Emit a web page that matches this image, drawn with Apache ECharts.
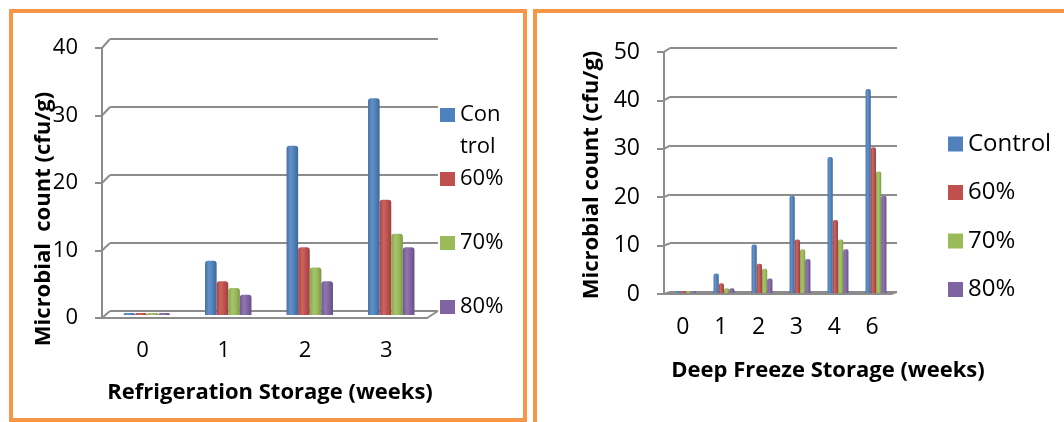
<!DOCTYPE html>
<html>
<head>
<meta charset="utf-8">
<script src="https://cdn.jsdelivr.net/npm/echarts@6/dist/echarts.min.js"></script>
<style>
html,body{margin:0;padding:0;background:#fff;}
#main{width:1064px;height:422px;}
</style>
</head>
<body>
<div id="main"></div>
<script>
// ---------- data ----------
const seriesNames = ['Control', '60%', '70%', '80%'];

const categories1 = ['0', '1', '2', '3'];
const control1 = [0, 8, 25, 32];
const pct60_1 = [0, 5, 10, 17];
const pct70_1 = [0, 4, 7, 12];
const pct80_1 = [0, 3, 5, 10];
const yMax1 = 40;

const categories2 = ['0', '1', '2', '3', '4', '6'];
const control2 = [0, 4, 10, 20, 28, 42];
const pct60_2 = [0, 2, 6, 11, 15, 30];
const pct70_2 = [0, 1, 5, 9, 11, 25];
const pct80_2 = [0, 1, 3, 7, 9, 20];
const yMax2 = 50;

const yStep = 10;

const yTitle1 = 'Microbial  count (cfu/g)';
const yTitle2 = 'Microbial count (cfu/g)';
const xTitle1 = 'Refrigeration Storage (weeks)';
const xTitle2 = 'Deep Freeze Storage (weeks)';

// ---------- styling ----------
const colors = ['#4F81BD', '#C0504D', '#9BBB59', '#8064A2'];
const gridGray = '#8c8c8c';
const FONT = '"Open Sans", "DejaVu Sans", sans-serif';

function shade(hex, f) {
  const n = parseInt(hex.slice(1), 16);
  let r = (n >> 16) & 255, g = (n >> 8) & 255, b = n & 255;
  const t = f < 0 ? 0 : 255, p = Math.abs(f);
  r = Math.round((t - r) * p + r); g = Math.round((t - g) * p + g); b = Math.round((t - b) * p + b);
  return 'rgb(' + r + ',' + g + ',' + b + ')';
}
function cyl(hex) {
  return new echarts.graphic.LinearGradient(0, 0, 1, 0, [
    { offset: 0, color: shade(hex, -0.12) },
    { offset: 0.35, color: shade(hex, 0.12) },
    { offset: 0.65, color: hex },
    { offset: 1, color: shade(hex, -0.2) }
  ]);
}

// layout (positions only)
const L = {
  c1front: { left: 102, top: 48, width: 325, height: 270 },
  c1back: { left: 110, top: 39, width: 328, height: 272 },
  c1bars: { left: 106, top: 44, width: 326, height: 271 },
  c2front: { left: 664, top: 52, width: 227, height: 242 },
  c2back: { left: 670, top: 48, width: 227, height: 244 },
  c2bars: { left: 667, top: 50, width: 228, height: 243 }
};

const chart = echarts.init(document.getElementById('main'), null, { renderer: 'canvas' });

function frontX(cats, fs, margin, gi) {
  return {
    type: 'category', data: cats, gridIndex: gi,
    axisLine: { show: true, lineStyle: { color: gridGray, width: 2 } },
    axisTick: { show: false },
    axisLabel: { fontSize: fs, color: '#000', margin: margin, fontFamily: FONT },
    splitLine: { show: false }
  };
}
function hiddenX(cats, gi) {
  return { type: 'category', data: cats, gridIndex: gi, show: false };
}
function frontY(max, fs, gi) {
  return {
    type: 'value', min: 0, max: max, interval: yStep, gridIndex: gi,
    axisLine: { show: true, lineStyle: { color: gridGray, width: 2 } },
    axisTick: { show: true, length: 7, lineStyle: { color: gridGray, width: 2 } },
    axisLabel: { fontSize: fs, color: '#000', margin: 24, fontFamily: FONT },
    splitLine: { show: false }
  };
}
function backY(max, gi) {
  return {
    type: 'value', min: 0, max: max, interval: yStep, gridIndex: gi,
    axisLine: { show: false }, axisTick: { show: false }, axisLabel: { show: false },
    splitLine: { show: true, lineStyle: { color: gridGray, width: 2 } }
  };
}
function hiddenY(max, gi) {
  return { type: 'value', min: 0, max: max, gridIndex: gi, show: false, splitLine: { show: false } };
}

const data1 = [control1, pct60_1, pct70_1, pct80_1];
const data2 = [control2, pct60_2, pct70_2, pct80_2];

const series = [];
seriesNames.forEach((nm, i) => {
  series.push({
    type: 'bar', name: nm, data: data1[i], xAxisIndex: 2, yAxisIndex: 2,
    barGap: '0%', barCategoryGap: '43%', barMinHeight: 2,
    itemStyle: { color: cyl(colors[i]), borderRadius: [3, 3, 0, 0] },
    emphasis: { disabled: true }
  });
});
seriesNames.forEach((nm, i) => {
  series.push({
    type: 'bar', name: nm, data: data2[i], xAxisIndex: 5, yAxisIndex: 5,
    barGap: '0%', barCategoryGap: '45%', barMinHeight: 2,
    itemStyle: { color: cyl(colors[i]), borderRadius: [2, 2, 0, 0] },
    emphasis: { disabled: true }
  });
});

const legendData = seriesNames.map((n, i) => ({ name: n, itemStyle: { color: colors[i] } }));

chart.setOption({
  animation: false,
  color: colors,
  textStyle: { fontFamily: FONT },
  grid: [L.c1front, L.c1back, L.c1bars, L.c2front, L.c2back, L.c2bars],
  xAxis: [frontX(categories1, 22, 22, 0), hiddenX(categories1, 1), hiddenX(categories1, 2),
          frontX(categories2, 23, 22, 3), hiddenX(categories2, 4), hiddenX(categories2, 5)],
  yAxis: [frontY(yMax1, 22, 0), backY(yMax1, 1), hiddenY(yMax1, 2), frontY(yMax2, 23, 3), backY(yMax2, 4), hiddenY(yMax2, 5)],
  legend: [
    {
      orient: 'vertical', left: 440, top: 104, padding: 0,
      itemWidth: 15, itemHeight: 14, itemGap: 42, icon: 'rect',
      selectedMode: false,
      data: legendData,
      formatter: n => (n === 'Control' ? 'Con' : n),
      textStyle: { fontSize: 22, lineHeight: 22, color: '#000', fontFamily: FONT }
    },
    {
      orient: 'vertical', left: 948, top: 132, padding: 0,
      itemWidth: 15, itemHeight: 15, itemGap: 24.5, icon: 'rect',
      selectedMode: false,
      data: legendData,
      textStyle: { fontSize: 24, lineHeight: 24, color: '#000', fontFamily: FONT }
    }
  ],
  series: series
});

// ---------- decorations (3D wall connectors, borders, titles) ----------
const g = [];
function connectors(fy, by, front, back, max) {
  for (let v = 0; v <= max; v += yStep) {
    const yf = chart.convertToPixel({ yAxisIndex: fy }, v);
    const yb = chart.convertToPixel({ yAxisIndex: by }, v);
    g.push({ type: 'line', shape: { x1: front.left, y1: yf, x2: back.left, y2: yb },
      style: { stroke: gridGray, lineWidth: 2 }, silent: true });
  }
  const yf0 = chart.convertToPixel({ yAxisIndex: fy }, 0);
  const yb0 = chart.convertToPixel({ yAxisIndex: by }, 0);
  g.push({ type: 'line', shape: { x1: front.left + front.width, y1: yf0, x2: back.left + back.width, y2: yb0 },
    style: { stroke: gridGray, lineWidth: 2 }, silent: true });
}
connectors(0, 1, L.c1front, L.c1back, yMax1);
connectors(3, 4, L.c2front, L.c2back, yMax2);

// orange frames
g.push({ type: 'rect', shape: { x: 11, y: 11, width: 514, height: 409 },
  style: { fill: null, stroke: '#F79646', lineWidth: 4 }, silent: true });
g.push({ type: 'rect', shape: { x: 535, y: 11, width: 600, height: 440 },
  style: { fill: null, stroke: '#F79646', lineWidth: 4 }, silent: true });

function txt(text, x, y, size, bold, rot) {
  return {
    type: 'text', x: x, y: y, rotation: rot || 0, silent: true,
    style: {
      text: text, fill: '#000',
      font: (bold ? 'bold ' : '') + size + 'px ' + FONT,
      align: 'center', verticalAlign: 'middle',
      textAlign: 'center', textVerticalAlign: 'middle'
    }
  };
}
g.push(txt(yTitle1, 44, 219, 22, true, Math.PI / 2));
g.push(txt(yTitle2, 592, 175, 22, true, Math.PI / 2));
g.push(txt(xTitle1, 270, 393, 22, true));
g.push(txt(xTitle2, 828, 371, 22, true));
// wrapped second line of the "Control" legend label in the left chart
const trol = txt('trol', 460, 147, 22, false);
trol.style.align = 'left'; trol.style.textAlign = 'left';
g.push(trol);

chart.setOption({ graphic: g });
</script>
</body>
</html>
